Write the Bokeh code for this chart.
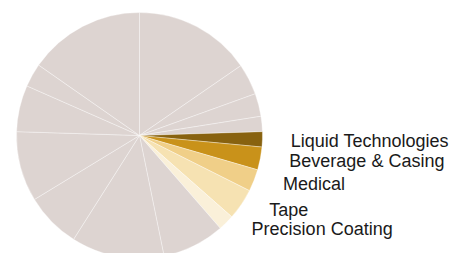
import math
from bokeh.plotting import figure
from bokeh.models import Range1d, ColumnDataSource
from bokeh.core.properties import value
from bokeh.embed import file_html
from bokeh.resources import INLINE

# Segment names (grey segments are unlabelled in the reference)
categories = ["", "", "", "", "Liquid Technologies", "Beverage & Casing", "Medical",
              "Tape", "Precision Coating", "", "", "", "", "", "", ""]
shares = [15.4, 4.1, 3.0, 2.0, 2.0, 3.0, 2.9, 4.1, 2.1, 8.2, 12.2, 7.3, 9.2, 6.1, 3.1, 15.3]

GREY = "#ddd4d1"
highlight_colors = {
    "Liquid Technologies": "#88620f",
    "Beverage & Casing": "#c9921a",
    "Medical": "#f0cf88",
    "Tape": "#f6e2b2",
    "Precision Coating": "#faf0d9",
}

W, H = 453, 253
cx, cy, R = 139, 118, 123

total = sum(shares)
start = math.pi / 2
starts, ends, colors, mids = [], [], [], []
for c, s in zip(categories, shares):
    sweep = s / total * 2 * math.pi
    starts.append(start)
    ends.append(start - sweep)
    mids.append(start - sweep / 2)
    colors.append(highlight_colors.get(c, GREY))
    start -= sweep

p = figure(width=W, height=H, output_backend="svg", toolbar_location=None,
           x_range=Range1d(0, W), y_range=Range1d(0, H), min_border=0)
p.axis.visible = False
p.grid.visible = False
p.outline_line_color = None
p.background_fill_color = "white"
p.border_fill_color = "white"

src = ColumnDataSource(dict(start=starts, end=ends, color=colors))
p.wedge(x=cx, y=cy, radius=R, start_angle="start", end_angle="end",
        direction="clock", fill_color="color", line_color="white",
        line_width=0.5, line_alpha=0.7, source=src)

lx, ly, lt = [], [], []
for c, m in zip(categories, mids):
    if c:
        lx.append(cx + 151 * math.cos(m) - 8 * math.sin(m))
        ly.append(cy + 130 * math.sin(m) - 1.5)
        lt.append(c)
# keep the first label clear of the second (min spacing)
if len(ly) > 1 and ly[0] - ly[1] < 19:
    ly[0] = ly[1] + 19
p.text(x=lx, y=ly, text=lt, text_font=value("Liberation Sans"),
       text_font_size="18px", text_color="#1a1a1a", text_align="left",
       text_baseline="middle")

open("out.html", "w").write(file_html(p, INLINE))
